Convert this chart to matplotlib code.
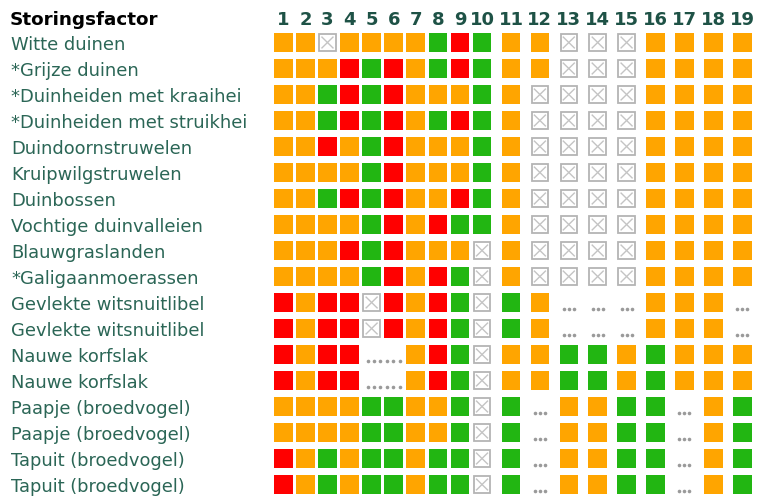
import matplotlib
matplotlib.use("Agg")
import matplotlib.pyplot as plt
from matplotlib.patches import Rectangle

# ---- data ----
header_title = "Storingsfactor"
factors = [str(i) for i in range(1, 20)]
habitats = [
    "Witte duinen",
    "*Grijze duinen",
    "*Duinheiden met kraaihei",
    "*Duinheiden met struikhei",
    "Duindoornstruwelen",
    "Kruipwilgstruwelen",
    "Duinbossen",
    "Vochtige duinvalleien",
    "Blauwgraslanden",
    "*Galigaanmoerassen",
    "Gevlekte witsnuitlibel",
    "Gevlekte witsnuitlibel",
    "Nauwe korfslak",
    "Nauwe korfslak",
    "Paapje (broedvogel)",
    "Paapje (broedvogel)",
    "Tapuit (broedvogel)",
    "Tapuit (broedvogel)",
]
# O = oranje, R = rood, G = groen, X = niet relevant, D = onbekend (...)
status = [
    "OOXOOOOGRG" + "OOXXXOOOO",
    "OOORGROGRG" + "OOXXXOOOO",
    "OOGRGROOOG" + "OXXXXOOOO",
    "OOGRGROGRG" + "OXXXXOOOO",
    "OOROGROOOG" + "OXXXXOOOO",
    "OOOOGROOOG" + "OXXXXOOOO",
    "OOGRGROORG" + "OXXXXOOOO",
    "OOOOGRORGG" + "OXXXXOOOO",
    "OOORGROOOX" + "OXXXXOOOO",
    "OOOOGRORGX" + "OXXXXOOOO",
    "RORRXRORGX" + "GODDDOOOD",
    "RORRXRORGX" + "GODDDOOOD",
    "RORRDDORGX" + "OOGGOGOOO",
    "RORRDDORGX" + "OOGGOGOOO",
    "OOOOGGOOGX" + "GDOOGGDOG",
    "OOOOGGOOGX" + "GDOOGGDOG",
    "ROGOGGOGGX" + "GDOOGGDOG",
    "ROGOGGOGGX" + "GDOOGGDOG",
]

colors = {"O": "#FFA500", "R": "#FF0000", "G": "#22B612"}
text_color = "#2B6656"
head_color = "#1E5246"

# ---- layout (pixels) ----
W, H = 760, 497
fig = plt.figure(figsize=(W / 100, H / 100), dpi=100)
ax = fig.add_axes([0, 0, 1, 1])
ax.set_xlim(0, W)
ax.set_ylim(H, 0)
ax.axis("off")

x0_a, pitch_a = 274.0, 22.08   # columns 1-10
x0_b, pitch_b = 501.7, 28.9    # columns 11-19
box_w, box_h = 18.6, 18.4
y0, pitch_y = 33.3, 26.0

def col_x(j):
    if j < 10:
        return x0_a + j * pitch_a
    return x0_b + (j - 10) * pitch_b

# header
ax.text(10, 20, header_title, fontsize=13.2, fontweight="bold", color="black",
        va="center", ha="left")
for j, f in enumerate(factors):
    ax.text(col_x(j) + box_w / 2, 20, f, fontsize=13, fontweight="bold",
            color=head_color, va="center", ha="center")

for i, (name, row) in enumerate(zip(habitats, status)):
    y = y0 + i * pitch_y
    ax.text(11, y + box_h / 2 + 3, name, fontsize=12.9, color=text_color,
            va="center", ha="left")
    j = 0
    while j < len(row):
        c = row[j]
        x = col_x(j)
        if c in colors:
            ax.add_patch(Rectangle((x, y), box_w, box_h, facecolor=colors[c],
                                   edgecolor="none"))
        elif c == "X":
            ins = 1.0
            ax.add_patch(Rectangle((x + ins, y + ins), box_w - 2 * ins, box_h - 2 * ins,
                                   facecolor="white", edgecolor="#B4B4B4", lw=1.3))
            m = 3.8
            ax.plot([x + m, x + box_w - m], [y + m, y + box_h - m], color="#C4C4C4", lw=1.0)
            ax.plot([x + m, x + box_w - m], [y + box_h - m, y + m], color="#C4C4C4", lw=1.0)
        elif c == "D":
            # run of consecutive D within the first block -> long dotted line
            if j < 10 and j + 1 < 10 and row[j + 1] == "D":
                x_end = col_x(j + 1) + box_w
                n = 6
                span = x_end - x - 2
                for k in range(n):
                    ax.plot(x + 2 + (k + 0.5) * span / n, y + box_h - 3, "o",
                            ms=2.6, color="#9A9A9A", mec="none")
                j += 2
                continue
            for k in range(3):
                ax.plot(x + box_w / 2 + (k - 1) * 5.0, y + box_h - 3, "o",
                        ms=2.6, color="#9A9A9A", mec="none")
        j += 1

fig.savefig("out.png", dpi=100, facecolor="white")
